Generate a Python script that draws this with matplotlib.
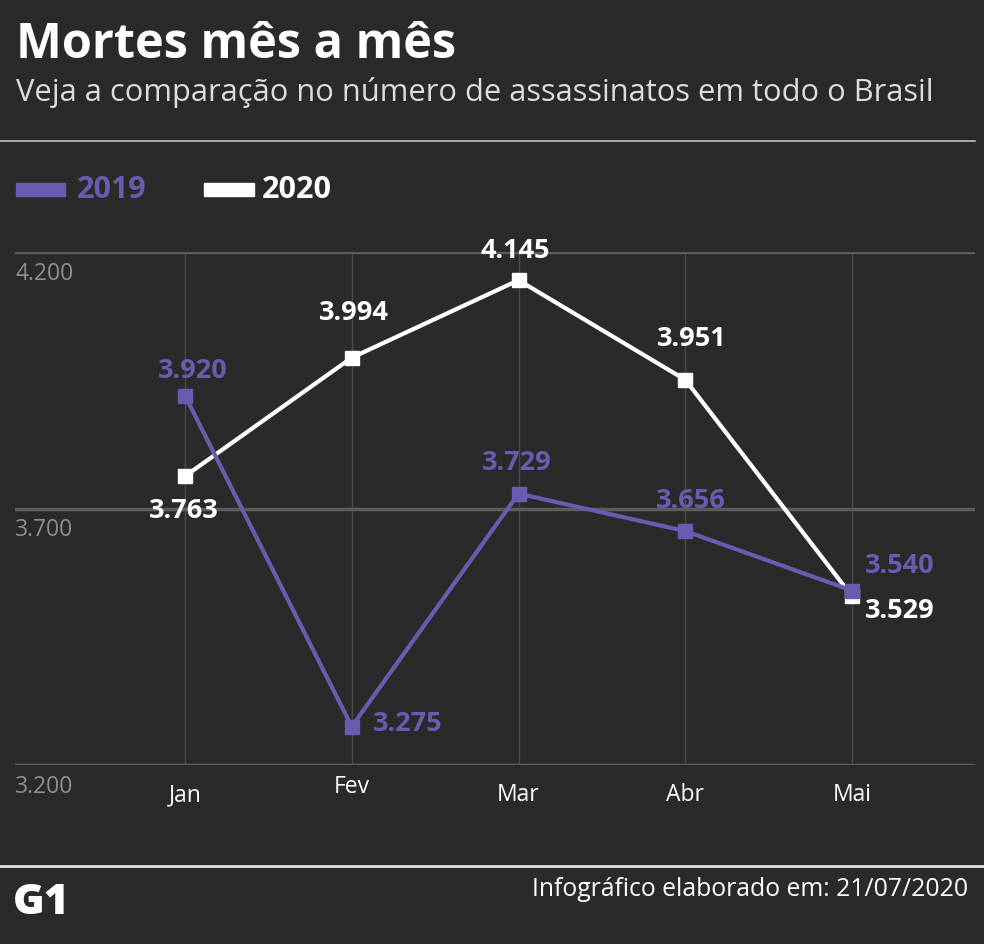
import matplotlib.pyplot as plt
from matplotlib.lines import Line2D
from matplotlib.patches import Rectangle

months = ['Jan', 'Fev', 'Mar', 'Abr', 'Mai']
deaths_2019 = [3920, 3275, 3729, 3656, 3540]
deaths_2020 = [3763, 3994, 4145, 3951, 3529]
y_ticks = [3200, 3700, 4200]

# label offsets (pixels) for each value label
off_2019 = [(8, 25), (56, 3), (-2, 31), (6, 30), (48, 25)]
off_2020 = [(-1, -35), (2, 45), (-3, 29), (6, 41), (48, -15)]
month_dy = [-30, -22, -30, -30, -30]

BG = '#2a2a2a'
PURPLE = '#6b5bb0'
W, H = 984, 944

plt.rcParams['font.family'] = ['Open Sans', 'DejaVu Sans']

fig = plt.figure(figsize=(W / 100, H / 100), dpi=100, facecolor=BG)


def px(x, y):
    return x / W, 1 - y / H


def fmt(v):
    return f'{v:,}'.replace(',', '.')


# header
fig.text(*px(16, 45), 'Mortes mês a mês', color='white', fontsize=35,
         fontweight='bold', va='center', ha='left')
fig.text(*px(16, 93), 'Veja a comparação no número de assassinatos em todo o Brasil',
         color='#dcdcdc', fontsize=22.2, va='center', ha='left')
fig.add_artist(Line2D([0, 975 / W], [1 - 141 / H] * 2, color='#bdbdbd', lw=1.2))

# legend
fig.add_artist(Rectangle(px(16, 196), 49 / W, 13 / H, color=PURPLE, transform=fig.transFigure))
fig.text(*px(77, 190), '2019', color=PURPLE, fontsize=22, fontweight='bold', va='center')
fig.add_artist(Rectangle(px(204, 196), 50 / W, 13 / H, color='white', transform=fig.transFigure))
fig.text(*px(262, 190), '2020', color='white', fontsize=22, fontweight='bold', va='center')

# chart
x0, y0 = px(15, 765)
x1, y1 = px(975, 252)
ax = fig.add_axes([x0, y0, x1 - x0, y1 - y0])
ax.set_facecolor('none')
xs = list(range(len(months)))
step = (852 - 185) / 4
ax.set_xlim((15 - 185) / step, (975 - 185) / step)
ax.set_ylim(3200, 4200)
for s in ax.spines.values():
    s.set_visible(False)
ax.set_xticks([])
ax.set_yticks([])

for x in xs:
    ax.axvline(x, color='#4a4a4a', lw=1, zorder=0)
for v in y_ticks:
    ax.axhline(v, color='#5c5c5c', lw=2.5, zorder=0)
    ax.annotate(fmt(v), (0, v), xycoords=ax.get_yaxis_transform(),
                xytext=(0, -10), textcoords='offset pixels', color='#8e8e8e',
                fontsize=16.5, va='top', ha='left')

for i, m in enumerate(months):
    ax.annotate(m, (xs[i], 0), xycoords=ax.get_xaxis_transform(),
                xytext=(0, month_dy[i]), textcoords='offset pixels',
                color='white', fontsize=16.5, ha='center', va='center')

ax.plot(xs, deaths_2020, color='white', lw=3, marker='s', ms=10, zorder=3)
ax.plot(xs, deaths_2019, color=PURPLE, lw=3, marker='s', ms=10, zorder=4)

for i in xs:
    ax.annotate(fmt(deaths_2019[i]), (xs[i], deaths_2019[i]),
                xytext=off_2019[i], textcoords='offset pixels', color=PURPLE,
                fontsize=19.5, fontweight='bold', ha='center', va='center', zorder=5)
    ax.annotate(fmt(deaths_2020[i]), (xs[i], deaths_2020[i]),
                xytext=off_2020[i], textcoords='offset pixels', color='white',
                fontsize=19.5, fontweight='bold', ha='center', va='center', zorder=5)

# footer
fig.add_artist(Line2D([0, 1], [1 - 866 / H] * 2, color='#e0e0e0', lw=2))
fig.text(*px(13, 903), 'G1', color='white', fontsize=31, fontweight='heavy',
         va='center', ha='left')
fig.text(*px(968, 890), 'Infográfico elaborado em: 21/07/2020', color='white',
         fontsize=17.8, va='center', ha='right')

fig.savefig('out.png', dpi=100, facecolor=BG)
